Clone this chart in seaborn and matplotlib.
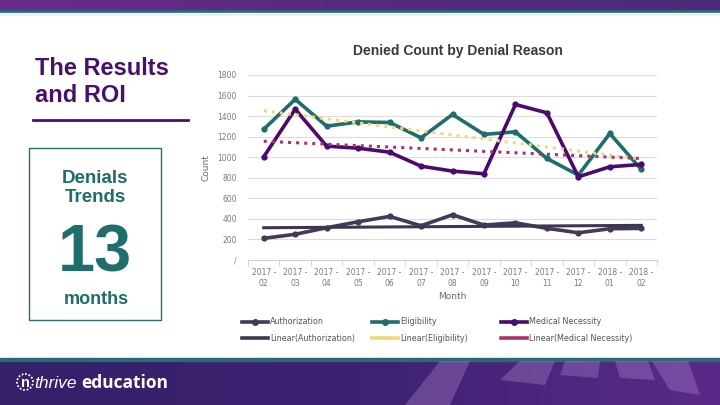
import matplotlib
matplotlib.use("Agg")
import matplotlib.pyplot as plt
import matplotlib.patches as mpatches
from matplotlib.lines import Line2D
import numpy as np
import pandas as pd
import seaborn as sns

# data
months = ["2017 -\n02", "2017 -\n03", "2017 -\n04", "2017 -\n05", "2017 -\n06", "2017 -\n07",
          "2017 -\n08", "2017 -\n09", "2017 -\n10", "2017 -\n11", "2017 -\n12", "2018 -\n01", "2018 -\n02"]
authorization = [211, 250, 314, 372, 424, 333, 440, 340, 362, 308, 265, 304, 308]
eligibility = [1272, 1564, 1302, 1344, 1338, 1189, 1416, 1222, 1247, 988, 826, 1231, 881]
medical = [1004, 1467, 1108, 1088, 1049, 913, 865, 839, 1513, 1432, 810, 907, 930]
reasons = ["Authorization", "Eligibility", "Medical Necessity"]
y_ticks = [0, 200, 400, 600, 800, 1000, 1200, 1400, 1600, 1800]

line_colors = {"Authorization": "#45385a", "Eligibility": "#1f6d6d", "Medical Necessity": "#4a0a6e"}
trend_colors = {"Authorization": "#3f3550", "Eligibility": "#f1d77c", "Medical Necessity": "#a8346a"}
trend_styles = {"Authorization": "-", "Eligibility": ":", "Medical Necessity": ":"}

df = pd.DataFrame({
    "idx": list(range(len(months))) * 3,
    "Count": authorization + eligibility + medical,
    "Reason": [r for r in reasons for _ in months],
})

W, H = 720, 405
fig = plt.figure(figsize=(7.2, 4.05), dpi=100)


def px_axes(x, y, w, h):
    return fig.add_axes([x / W, 1 - (y + h) / H, w / W, h / H])


# banners
bg = px_axes(0, 0, W, H)
bg.axis("off")
grad = np.linspace(0, 1, 256).reshape(1, -1)
top_cmap = matplotlib.colors.LinearSegmentedColormap.from_list("t", ["#6a2a8c", "#562a80", "#4a2a78"])
bot_cmap = matplotlib.colors.LinearSegmentedColormap.from_list("b", ["#35206a", "#3d2272", "#5a2a8a"])
bg.imshow(grad, cmap=top_cmap, extent=[0, W, 10, 0], aspect="auto")
bg.add_patch(mpatches.Rectangle((0, 10), W, 2.5, color="#2f6273"))
bg.add_patch(mpatches.Rectangle((0, 12.5), W, 2, color="#e6f4f6"))
bg.imshow(grad, cmap=bot_cmap, extent=[0, W, H, 361], aspect="auto")
bg.add_patch(mpatches.Rectangle((0, 358), W, 3, color="#2b6a74"))
# decorative light shapes on the bottom banner
for pts in [[(405, 405), (440, 361), (470, 361), (450, 405)],
            [(500, 380), (520, 361), (555, 361), (545, 385)],
            [(560, 375), (565, 361), (600, 361), (598, 378)],
            [(620, 378), (615, 361), (648, 361), (655, 380)],
            [(670, 390), (652, 361), (688, 361), (700, 395)]]:
    bg.add_patch(mpatches.Polygon(pts, closed=True, color="#b08ad0", alpha=0.35, lw=0))
bg.set_xlim(0, W)
bg.set_ylim(H, 0)
bg.add_patch(mpatches.Circle((25, 382), 8, fill=False, ec="white", lw=1.3, ls=(0, (1, 1))))
bg.text(25, 383, "n", color="white", fontsize=10.5, fontweight="bold", ha="center", va="center",
        family="Liberation Sans")
bg.text(34, 383, "thrive", color="white", fontsize=12.5, ha="left", va="center", family="Liberation Sans",
        style="italic")
bg.text(81, 383, "education", color="white", fontsize=12.5, fontweight="bold", ha="left", va="center",
        family="Open Sans")

# left panel
bg.text(35, 102, "The Results\nand ROI", color="#4a0f6a", fontsize=17, fontweight="bold",
        family="Liberation Sans", ha="left", va="baseline", linespacing=1.2)
bg.plot([33, 188], [120, 120], color="#4a0f6a", lw=2)
bg.add_patch(mpatches.Rectangle((29, 148), 132, 172, fill=False, ec="#2e6b6b", lw=1))
bg.text(95, 202, "Denials\nTrends", color="#1f6d6d", fontsize=13.5, fontweight="bold",
        family="Liberation Sans", ha="center", va="baseline", linespacing=1.15)
bg.text(95, 271, "13", color="#1f6d6d", fontsize=48, fontweight="bold",
        family="Liberation Sans", ha="center", va="baseline")
bg.text(96, 304, "months", color="#1f6d6d", fontsize=13, fontweight="bold",
        family="Liberation Sans", ha="center", va="baseline")

# chart
ax = px_axes(248, 75, 409, 185)
sns.lineplot(data=df, x="idx", y="Count", hue="Reason", palette=line_colors, marker="o",
             markersize=4.5, markeredgewidth=0, linewidth=2.6, legend=False, ax=ax)
for r in reasons:
    sub = df[df["Reason"] == r]
    sns.regplot(data=sub, x="idx", y="Count", ci=None, scatter=False, ax=ax,
                line_kws={"color": trend_colors[r], "lw": 2.2, "ls": trend_styles[r]})

ax.set_xlim(-0.5, len(months) - 0.5)
ax.set_ylim(0, 1800)
ax.set_yticks(y_ticks)
ax.set_yticklabels(["/" if v == 0 else str(v) for v in y_ticks])
ax.set_xticks(range(len(months)))
ax.set_xticklabels(months)
ax.set_xticks(np.arange(-0.5, len(months)), minor=True)
ax.tick_params(axis="x", which="major", length=0, pad=6, labelsize=5.5, colors="#7a7a7a")
ax.tick_params(axis="x", which="minor", length=4, color="#d0d0d0")
ax.tick_params(axis="y", length=0, pad=8, labelsize=5.5, colors="#7a7a7a")
ax.grid(axis="y", color="#dcdcdc", lw=0.8)
ax.set_axisbelow(True)
for s in ["top", "right", "left"]:
    ax.spines[s].set_visible(False)
ax.spines["bottom"].set_color("#d0d0d0")
ax.set_xlabel("Month", fontsize=6.5, color="#6a6a6a", labelpad=3)
ax.set_ylabel("Count", fontsize=6.5, color="#6a6a6a", labelpad=5)
ax.set_facecolor("none")

fig.text(458 / W, 1 - 51 / H, "Denied Count by Denial Reason", ha="center", va="center",
         fontsize=10, fontweight="bold", color="#3a3a3a", family="Liberation Sans")

# legend: one small legend per column
col_x = [240, 370, 499]
for r, cx in zip(reasons, col_x):
    hs = [Line2D([], [], color=line_colors[r], lw=2.6, marker="o", markersize=4),
          Line2D([], [], color=trend_colors[r], lw=2.6)]
    ls = [r, "Linear(" + r + ")"]
    leg = fig.legend(hs, ls, loc="center left", bbox_to_anchor=(cx / W, 1 - 330 / H),
                     frameon=False, fontsize=5.8, handlelength=3.3, handletextpad=0.2,
                     labelspacing=0.9, borderaxespad=0, borderpad=0.2)
    for t in leg.get_texts():
        t.set_color("#555555")

fig.savefig("out.png", dpi=100)
